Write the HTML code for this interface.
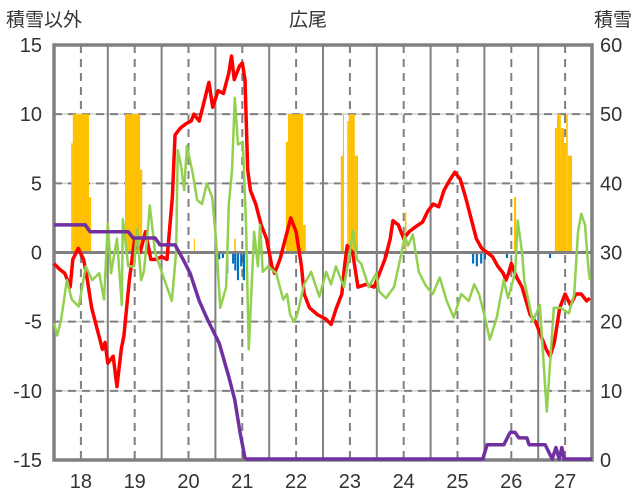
<!DOCTYPE html>
<html><head><meta charset="utf-8"><style>
body{margin:0;background:#fff;width:636px;height:501px;overflow:hidden}
svg{display:block;font-family:"Liberation Sans","Noto Sans CJK JP",sans-serif}
</style></head><body>
<svg id="c" width="636" height="501">
<text x="6" y="26" font-size="19" fill="#333">積雪以外</text>
<text x="308" y="26" font-size="19" fill="#333" text-anchor="middle">広尾</text>
<text x="632" y="26" font-size="19" fill="#333" text-anchor="end">積雪</text>
</svg>
<script>
const yearLabels=[18,19,20,21,22,23,24,25,26,27];
const leftTicks=[15,10,5,0,-5,-10,-15];
const rightTicks=[60,50,40,30,20,10,0];
const redT=[17.5,17.6,17.7,17.8,17.85,17.95,18.05,18.1,18.2,18.3,18.4,18.45,18.5,18.6,18.67,18.75,18.8,18.9,19.0,19.1,19.2,19.3,19.4,19.5,19.6,19.7,19.75,19.85,19.95,20.05,20.1,20.2,20.38,20.45,20.55,20.65,20.75,20.8,20.85,20.95,21.0,21.05,21.1,21.15,21.25,21.35,21.45,21.55,21.6,21.7,21.8,21.9,22.0,22.1,22.15,22.25,22.4,22.55,22.65,22.75,22.85,22.9,22.95,23.05,23.15,23.3,23.45,23.55,23.65,23.75,23.8,23.9,24.0,24.1,24.2,24.35,24.45,24.55,24.65,24.75,24.85,24.95,25.05,25.15,25.25,25.35,25.45,25.55,25.65,25.75,25.85,25.9,25.95,26.0,26.1,26.2,26.35,26.45,26.55,26.65,26.72,26.8,26.9,27.0,27.1,27.2,27.3,27.4,27.46];
const redV=[-0.8,-1.2,-1.5,-2.5,-0.5,0.3,-0.5,-1.5,-4,-5.5,-7,-6.5,-8,-7.5,-9.7,-7,-6,-2,1,0,1.5,-0.5,-0.5,-0.3,-0.5,4,8.5,9,9.3,9.5,10,9.5,12.3,10.5,11.7,11.5,13,14.2,12.5,13.5,13.7,12.5,6,4.5,3.5,2,1,-1,-1.5,-0.5,1,2.5,1.5,-1,-3,-4,-4.5,-4.8,-5.2,-4,-3,-1,0.5,0,-2.5,-2.3,-2.5,-1.5,-0.5,1,2.3,2,1,1.5,1.8,2.2,3,3.5,3.3,4.5,5.2,5.8,5.3,4,2.5,1,0.3,0,-0.3,-1,-1.5,-2,-1.5,-0.8,-1.8,-2.5,-4.5,-5,-6,-7,-7.5,-6.5,-4,-3,-3.8,-3,-3,-3.5,-3.3];
const greenT=[17.5,17.56,17.63,17.74,17.83,17.96,18.09,18.21,18.34,18.43,18.5,18.56,18.67,18.76,18.78,18.88,18.99,19.04,19.12,19.17,19.23,19.28,19.38,19.51,19.6,19.69,19.77,19.8,19.86,19.92,19.97,20.08,20.16,20.25,20.34,20.44,20.51,20.59,20.7,20.75,20.81,20.86,20.92,21.01,21.07,21.12,21.22,21.29,21.33,21.38,21.48,21.63,21.76,21.83,21.89,21.96,22.02,22.15,22.28,22.43,22.56,22.65,22.74,22.89,23.02,23.06,23.13,23.21,23.35,23.49,23.54,23.67,23.82,23.95,24.02,24.08,24.17,24.28,24.41,24.54,24.67,24.8,24.93,25.07,25.21,25.31,25.4,25.51,25.6,25.73,25.86,25.94,26.07,26.12,26.2,26.24,26.4,26.53,26.66,26.79,26.92,27.07,27.17,27.24,27.3,27.37,27.43,27.46];
const greenV=[-5.1,-6,-4.9,-2,-3.4,-3.9,-1,-2,-1.5,-3.4,2.1,-1.5,1,-3.8,2.4,-1,-1,1.7,-2,-1.4,1,3.4,0,-1.5,-2.5,-3.5,0,7.4,6.3,4.5,7.7,5.7,3.8,3.5,5,4,1,-4,-2.5,3.5,6,11.2,7.8,8,2,-7,1.5,-1,2,-1.4,-1,-1.5,-3.4,-3,-4.5,-5,-4.5,-2.3,-1.4,-3.2,-1.4,-2.3,-1,-2.5,0.5,1.6,-0.5,-0.8,-2.5,-1.5,-2.8,-3.3,-2.5,-0.2,1.2,0.5,1.3,-1.4,-2.4,-3,-1.8,-3.5,-4.7,-3,-3.5,-2.3,-3,-4.7,-6.3,-4.7,-2,-3.3,-1.5,2.3,0,-2,-5,-3.8,-11.5,-4,-4,-4.4,-3,1.5,2.8,2,-1,-2];
const purpleT=[17.5,18.08,18.17,18.88,18.97,19.38,19.47,19.75,19.9,20.03,20.2,20.36,20.57,20.75,20.86,20.96,21.05,21.08,25.47,25.55,25.86,25.98,26.07,26.14,26.29,26.33,26.63,26.76,26.83,26.89,26.94,26.98,27.5];
const purpleV=[34,34,33,33,32.1,32.1,31.1,31.1,29,27,23,20.2,16.9,12,8.7,3.9,0.3,0,0,2.2,2.2,4,4,3.2,3.2,2.2,2.2,0,1.8,0,1.8,0,0];
const snowStart=[17.82,17.85,18.15,18.82,19.1,20.1,20.85,21.81,21.85,22.13,22.83,22.87,22.95,22.98,23.09,24.02,26.05,26.81,26.85,26.92,26.98,27.02,27.05];
const snowEnd=[17.85,18.15,18.19,19.1,19.14,20.12,20.88,21.85,22.13,22.18,22.87,22.89,22.98,23.09,23.15,24.05,26.09,26.85,26.92,26.98,27.02,27.05,27.13];
const snowV=[7.9,10,4,10,6,1,1,8,10,2,7,10,9.5,10,7,2.9,4,9,10,9,7.9,10,7];
const meltT=[20.55,20.62,20.7,20.81,20.85,20.9,20.96,21.01,23.63,23.67,25.27,25.34,25.42,25.49,25.9,26.7];
const meltV=[-0.5,-0.4,-1.5,-0.8,-1.3,-2,-1,-2,-0.3,-0.3,-0.8,-1,-0.8,-0.5,-0.4,-0.4];

const L=54,R=592,T=45,B=460;
const X=t=>L+(t-17.5)*(R-L)/10;
const YL=v=>B-(v+15)*(B-T)/30;
const YR=v=>B-v*(B-T)/60;
const svg=document.getElementById('c');
const NS='http://www.w3.org/2000/svg';
function mk(tag,a,p){const e=document.createElementNS(NS,tag);for(const k in a)e.setAttribute(k,a[k]);(p||svg).appendChild(e);return e;}

leftTicks.forEach(v=>{if(v===15||v===-15||v===0)return;
 const g=mk('line',{x1:L,x2:R,y1:YL(v),y2:YL(v),stroke:'#d0d0d0','stroke-width':1.5});
 
 
 const d=mk('line',{x1:L,x2:R,y1:YL(v),y2:YL(v),stroke:'#808080','stroke-width':2,'stroke-dasharray':'8,6'});
 
 
});
yearLabels.forEach((y,i)=>{
 const d=mk('line',{x1:X(y),x2:X(y),y1:T,y2:B,stroke:'#808080','stroke-width':2,'stroke-dasharray':'8,6'});
 
 
 if(i<yearLabels.length-1){
  const s=mk('line',{x1:X(y+0.5),x2:X(y+0.5),y1:T,y2:B,stroke:'#808080','stroke-width':2});
  
  
 }
 const tx=mk('text',{x:X(y),y:488,'font-size':20,fill:'#333','text-anchor':'middle'});
 tx.textContent=y;
 
 
});
const fr=mk('rect',{x:L,y:T,width:R-L,height:B-T,fill:'none',stroke:'#808080','stroke-width':3.5});


snowStart.forEach((s,i)=>{
 const r=mk('rect',{x:X(s),y:YL(snowV[i]),width:X(snowEnd[i])-X(s),height:YL(0)-YL(snowV[i]),fill:'#ffc000'});
 
 
});
meltT.forEach((t,i)=>{
 const r=mk('rect',{x:X(t),y:YL(0),width:X(t+0.04)-X(t),height:YL(meltV[i])-YL(0),fill:'#0070c0'});
 
 
});
const z=mk('line',{x1:L,x2:R,y1:YL(0),y2:YL(0),stroke:'#808080','stroke-width':3});


function line(T_,V_,f,col,w,name){
 const p=mk('polyline',{points:T_.map((t,i)=>X(t)+','+f(V_[i])).join(' '),fill:'none',stroke:col,'stroke-width':w,'stroke-linejoin':'round'});
 
 
}
line(redT,redV,YL,'#ff0000',3.5,'red-series');
line(greenT,greenV,YL,'#92d050',2.5,'green-series');
line(purpleT,purpleV,v=>Math.min(YR(v),B-1),'#7030a0',3.5,'snow-depth-series');
leftTicks.forEach(v=>{
 const t=mk('text',{x:42,y:YL(v)+7,'font-size':20,fill:'#333','text-anchor':'end'});
 t.textContent=v;
 
 
});
rightTicks.forEach(v=>{
 const t=mk('text',{x:600,y:YR(v)+7,'font-size':20,fill:'#333'});
 t.textContent=v;
 
 
});
</script>
</body></html>
